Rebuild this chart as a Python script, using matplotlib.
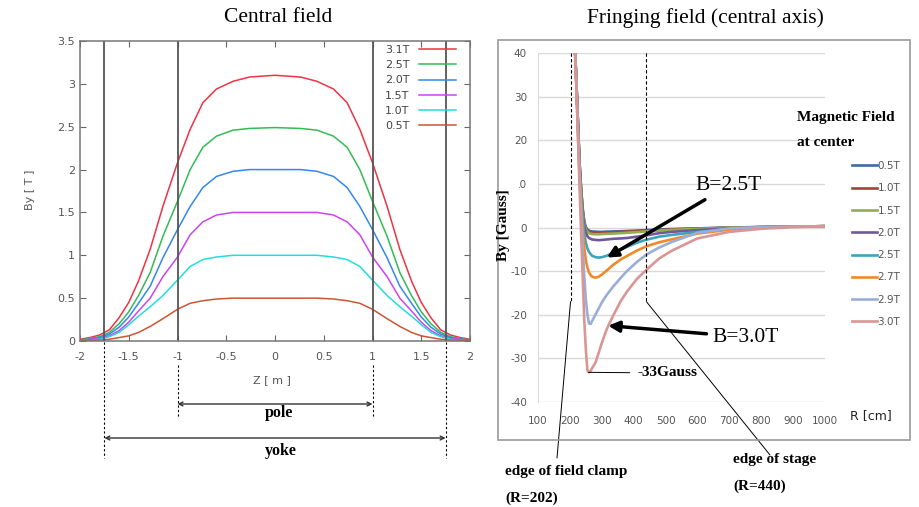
import numpy as np
import matplotlib
matplotlib.use('Agg')
import matplotlib.pyplot as plt
import matplotlib.transforms as mtransforms
from matplotlib.patches import Rectangle

plt.rcParams['axes.unicode_minus'] = False

# ---- central field data ----
z = [-2, -1.9, -1.8, -1.7, -1.6, -1.5, -1.4, -1.28, -1.15, -1, -0.87, -0.74, -0.6,
     -0.43, -0.26, 0, 0.26, 0.43, 0.6, 0.74, 0.87, 1, 1.15, 1.28, 1.4, 1.5, 1.6,
     1.7, 1.8, 1.9, 2]
b31 = [0.02, 0.04, 0.07, 0.13, 0.27, 0.45, 0.7, 1.07, 1.57, 2.08, 2.47, 2.78, 2.94,
       3.03, 3.08, 3.1, 3.08, 3.03, 2.94, 2.78, 2.47, 2.08, 1.57, 1.07, 0.7, 0.45,
       0.27, 0.13, 0.07, 0.04, 0.02]
b25 = [0.01, 0.03, 0.05, 0.1, 0.2, 0.34, 0.53, 0.8, 1.22, 1.63, 2.0, 2.26, 2.39,
       2.46, 2.48, 2.49, 2.48, 2.46, 2.39, 2.26, 2.0, 1.63, 1.22, 0.8, 0.53, 0.34,
       0.2, 0.1, 0.05, 0.03, 0.01]
b20 = [0.01, 0.02, 0.04, 0.08, 0.16, 0.28, 0.44, 0.64, 0.97, 1.3, 1.57, 1.79, 1.92,
       1.98, 2.0, 2.0, 2.0, 1.98, 1.92, 1.79, 1.57, 1.3, 0.97, 0.64, 0.44, 0.28,
       0.16, 0.08, 0.04, 0.02, 0.01]
b15 = [0.01, 0.02, 0.03, 0.06, 0.12, 0.22, 0.35, 0.5, 0.75, 0.98, 1.24, 1.39, 1.47,
       1.5, 1.5, 1.5, 1.5, 1.5, 1.47, 1.39, 1.24, 0.98, 0.75, 0.5, 0.35, 0.22,
       0.12, 0.06, 0.03, 0.02, 0.01]
b10 = [0.0, 0.01, 0.02, 0.05, 0.1, 0.19, 0.29, 0.4, 0.53, 0.71, 0.87, 0.95, 0.98,
       1.0, 1.0, 1.0, 1.0, 1.0, 0.98, 0.95, 0.87, 0.71, 0.53, 0.4, 0.29, 0.19,
       0.1, 0.05, 0.02, 0.01, 0.0]
b05 = [0.0, 0.01, 0.01, 0.02, 0.04, 0.06, 0.1, 0.17, 0.26, 0.37, 0.44, 0.47, 0.49,
       0.5, 0.5, 0.5, 0.5, 0.5, 0.49, 0.47, 0.44, 0.37, 0.26, 0.17, 0.1, 0.06,
       0.04, 0.02, 0.01, 0.01, 0.0]
central = [b31, b25, b20, b15, b10, b05]
central_labels = ['3.1T', '2.5T', '2.0T', '1.5T', '1.0T', '0.5T']
central_colors = ['#ee3344', '#33bb55', '#3388ee', '#cc44ee', '#22dddd', '#cc5533']

# ---- fringing field data (Excel panel) ----
R = [200, 210, 220, 230, 235, 240, 245, 250, 255, 260, 265, 270, 280, 290, 300, 315,
     335, 360, 380, 410, 440, 480, 520, 600, 700, 800, 900, 1000]
f05 = [70, 52, 34, 15, 9, 4.5, 1.4, 0.1, -0.45, -0.7, -0.85, -0.9, -0.95, -1.0, -1.0,
       -0.95, -0.9, -0.85, -0.8, -0.7, -0.6, -0.45, -0.35, -0.2, 0.0, 0.1, 0.2, 0.3]
f10 = [70, 52, 34, 15, 9, 4.2, 1.1, -0.2, -0.7, -1.0, -1.15, -1.2, -1.25, -1.25, -1.2,
       -1.15, -1.1, -1.0, -0.95, -0.85, -0.75, -0.6, -0.45, -0.25, -0.05, 0.1, 0.2, 0.3]
f15 = [70, 52, 34, 15, 9, 4.0, 0.9, -0.4, -1.0, -1.3, -1.45, -1.5, -1.55, -1.55, -1.5,
       -1.45, -1.4, -1.3, -1.2, -1.05, -0.9, -0.7, -0.55, -0.3, -0.05, 0.1, 0.2, 0.3]
f20 = [70, 52, 34, 15, 8.5, 3.5, 0.3, -1.2, -2.0, -2.4, -2.6, -2.75, -2.85, -2.9, -2.85,
       -2.75, -2.6, -2.5, -2.4, -2.1, -1.8, -1.3, -1.0, -0.6, -0.2, 0.1, 0.2, 0.3]
f25 = [70, 52, 34, 14, 8, 2.5, -1.5, -3.5, -4.8, -5.6, -6.1, -6.5, -6.8, -6.9, -6.8,
       -6.5, -5.8, -5.0, -4.4, -3.5, -2.8, -2.1, -1.7, -1.0, -0.4, 0.0, 0.2, 0.3]
f27 = [70, 52, 33, 13, 6, 0, -4.5, -7.5, -9.2, -10.3, -10.9, -11.3, -11.5, -11.3, -10.8,
       -9.9, -8.6, -7.3, -6.5, -5.3, -4.3, -3.4, -2.7, -1.4, -0.5, 0.0, 0.2, 0.3]
f29 = [70, 52, 33, 12, 4, -4, -11, -16.5, -20, -22, -22.1, -21.4, -20, -18.6, -17.2,
       -15.5, -13.6, -11.5, -9.9, -7.9, -6.2, -4.6, -3.3, -1.2, -0.2, 0.1, 0.2, 0.3]
f30 = [70, 52, 33, 10, -1, -11, -21, -28, -32.8, -33.2, -32.9, -32.2, -31.0, -28.8, -26.5,
       -23.4, -20.3, -16.8, -14.6, -11.8, -9.7, -7.1, -5.3, -2.5, -1.0, -0.3, 0.1, 0.3]
fringe = [f05, f10, f15, f20, f25, f27, f29, f30]
fringe_labels = ['0.5T', '1.0T', '1.5T', '2.0T', '2.5T', '2.7T', '2.9T', '3.0T']
fringe_colors = ['#3c6ea6', '#a8403c', '#93ad52', '#71589a', '#3fa3bb', '#f0892a',
                 '#9aaed8', '#d99694']

W, H = 919, 507
def fp(x, y):
    return (x / W, 1 - y / H)

fig = plt.figure(figsize=(9.19, 5.07), dpi=100)
serif = 'Liberation Serif'

# ================= left panel =================
ax = fig.add_axes([80 / W, 1 - 341 / H, 390 / W, 300 / H])
for vals, lab, col in zip(central, central_labels, central_colors):
    ax.plot(z, vals, color=col, lw=1.1, label=lab)
for xv in [-1.75, -1, 1, 1.75]:
    ax.axvline(xv, color='#555555', lw=1.3)
ax.set_xlim(-2, 2)
ax.set_ylim(0, 3.5)
ax.set_xticks(np.arange(-2, 2.01, 0.5))
ax.set_yticks(np.arange(0, 3.51, 0.5))
ax.set_xticklabels(['-2', '-1.5', '-1', '-0.5', '0', '0.5', '1', '1.5', '2'])
ax.set_yticklabels(['0', '0.5', '1', '1.5', '2', '2.5', '3', '3.5'])
ax.tick_params(direction='in', top=True, right=True, length=4, color='#666666',
               labelcolor='#555555', labelsize=8)
ax.tick_params(axis='x', pad=8)
for s in ax.spines.values():
    s.set_color('#777777')
    s.set_linewidth(1.1)
ax.legend(loc='upper right', bbox_to_anchor=fp(456, 45), bbox_transform=fig.transFigure,
          markerfirst=False, frameon=False, fontsize=8, labelcolor='#444444',
          handlelength=3.3, handletextpad=0.9, labelspacing=0.47,
          borderpad=0, borderaxespad=0)
fig.text(*fp(30, 190), 'By [ T ]', rotation=90, ha='center', va='center',
         fontsize=8, color='#555555')
fig.text(*fp(272, 380), 'Z [ m ]', ha='center', va='center', fontsize=8, color='#555555')
fig.text(*fp(278, 18), 'Central field', ha='center', va='center', fontsize=15.5,
         family=serif)

# pole / yoke dimension marks
tr = mtransforms.blended_transform_factory(ax.transData, fig.transFigure)
for xv in [-1, 1]:
    ax.plot([xv, xv], [1 - 365 / H, 1 - 417 / H], transform=tr, color='k', lw=0.8,
            ls=(0, (2, 2)), clip_on=False)
for xv in [-1.75, 1.75]:
    ax.plot([xv, xv], [1 - 342 / H, 1 - 458 / H], transform=tr, color='k', lw=0.8,
            ls=(0, (2, 2)), clip_on=False)
ax.annotate('', xy=(1, 1 - 404 / H), xytext=(-1, 1 - 404 / H), xycoords=tr,
            textcoords=tr, arrowprops=dict(arrowstyle='<->', lw=1.0, color='#333333',
                                           mutation_scale=7, shrinkA=0, shrinkB=0))
ax.annotate('', xy=(1.75, 1 - 438 / H), xytext=(-1.75, 1 - 438 / H), xycoords=tr,
            textcoords=tr, arrowprops=dict(arrowstyle='<->', lw=1.0, color='#333333',
                                           mutation_scale=7, shrinkA=0, shrinkB=0))
fig.text(*fp(279, 413), 'pole', ha='center', va='center', fontsize=11.5,
         fontweight='bold', family=serif)
fig.text(*fp(281, 451), 'yoke', ha='center', va='center', fontsize=11.5,
         fontweight='bold', family=serif)

# ================= right panel =================
fig.patches.append(Rectangle(fp(498, 440), 412 / W, 400 / H, transform=fig.transFigure,
                             fill=False, edgecolor='#999999', lw=1.2))
ax2 = fig.add_axes([538 / W, 1 - 402 / H, 287 / W, 349 / H])
lines = []
for vals, lab, col in zip(fringe, fringe_labels, fringe_colors):
    ln, = ax2.plot(R, vals, color=col, lw=1.9, label=lab)
    lines.append(ln)
ax2.set_xlim(100, 1000)
ax2.set_ylim(-40, 40)
ax2.set_yticks(np.arange(-40, 41, 10))
ax2.set_xticks(np.arange(100, 1001, 100))
ax2.grid(axis='y', color='#d9d9d9', lw=1.0)
ax2.set_axisbelow(True)
for k in ['top', 'right', 'bottom']:
    ax2.spines[k].set_visible(False)
ax2.spines['left'].set_color('#d9d9d9')
ax2.tick_params(length=0, labelsize=7.5, labelcolor='#555555')
ax2.tick_params(axis='x', pad=10)
ax2.tick_params(axis='y', pad=8)

ax2.plot([202, 202], [40, -17], color='k', lw=0.8, ls=(0, (3, 2)), clip_on=False)
ax2.plot([440, 440], [40, -17], color='k', lw=0.8, ls=(0, (3, 2)), clip_on=False)

ax2.legend(handles=lines, loc='upper left', bbox_to_anchor=fp(852, 161),
           bbox_transform=fig.transFigure, frameon=False, fontsize=7.5,
           labelcolor='#555555', handlelength=2.4, handletextpad=0.05,
           labelspacing=1.18, borderpad=0, borderaxespad=0)

# white patch behind the y label (it partly hides the frame and the "10" label)
ax2.add_patch(Rectangle(fp(490, 262), 29 / W, 112 / H, transform=fig.transFigure,
                        facecolor='white', edgecolor='none', clip_on=False, zorder=5))

fig.text(*fp(705, 18), 'Fringing field (central axis)', ha='center', va='center',
         fontsize=15.5, family=serif)
fig.text(*fp(797, 117), 'Magnetic Field', ha='left', va='center', fontsize=11,
         fontweight='bold', family=serif)
fig.text(*fp(797, 143), 'at center', ha='left', va='center', fontsize=11,
         fontweight='bold', family=serif)
fig.text(*fp(503, 225), 'By [Gauss]', rotation=90, ha='center', va='center',
         fontsize=11, fontweight='bold', family=serif, zorder=6)
fig.text(*fp(850, 416), 'R [cm]', ha='left', va='center', fontsize=9, color='#222222')

ax2.annotate('B=2.5T', xy=(316, -6.9), xytext=fp(695, 186), textcoords='figure fraction',
             fontsize=15.5, family=serif, va='center', ha='left',
             arrowprops=dict(arrowstyle='-|>', lw=2.5, color='k', mutation_scale=16,
                             shrinkA=2, shrinkB=0))
ax2.annotate('B=3.0T', xy=(320, -22.5), xytext=fp(712, 337), textcoords='figure fraction',
             fontsize=15.5, family=serif, va='center', ha='left',
             arrowprops=dict(arrowstyle='-|>', lw=2.5, color='k', mutation_scale=16,
                             shrinkA=2, shrinkB=0))
ax2.annotate('-33Gauss', xy=(258, -33.2), xytext=fp(638, 373), textcoords='figure fraction',
             fontsize=11, fontweight='bold', family=serif, va='center', ha='left',
             arrowprops=dict(arrowstyle='-', lw=0.7, color='k', shrinkA=4, shrinkB=0))

ax2.annotate('', xy=(202, -17), xytext=fp(557, 458), textcoords='figure fraction',
             annotation_clip=False,
             arrowprops=dict(arrowstyle='-', lw=0.7, color='k', shrinkA=0, shrinkB=0))
ax2.annotate('', xy=(440, -17), xytext=fp(770, 455), textcoords='figure fraction',
             annotation_clip=False,
             arrowprops=dict(arrowstyle='-', lw=0.7, color='k', shrinkA=0, shrinkB=0))
fig.text(*fp(505, 472), 'edge of field clamp', ha='left', va='center', fontsize=11,
         fontweight='bold', family=serif)
fig.text(*fp(505, 498), '(R=202)', ha='left', va='center', fontsize=11,
         fontweight='bold', family=serif)
fig.text(*fp(733, 460), 'edge of stage', ha='left', va='center', fontsize=11,
         fontweight='bold', family=serif)
fig.text(*fp(733, 486), '(R=440)', ha='left', va='center', fontsize=11,
         fontweight='bold', family=serif)

fig.savefig('out.png', dpi=100)
